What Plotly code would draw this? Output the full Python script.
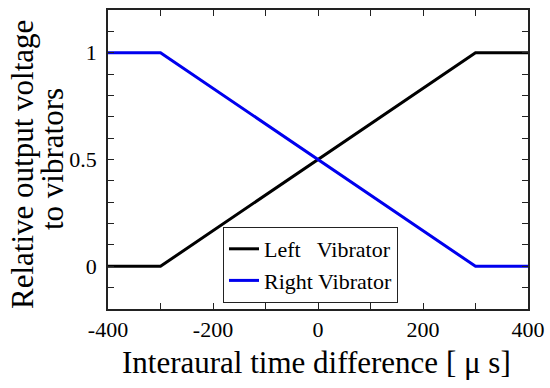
import plotly.graph_objects as go

itd = [-400, -300, 300, 400]
left_vib = [0, 0, 1, 1]
right_vib = [1, 1, 0, 0]
x_ticks = [-400, -200, 0, 200, 400]
x_tick_text = ["-400", "-200", "0", "200", "400"]
y_ticks = [0, 0.5, 1]
y_tick_text = ["0", "0.5", "1"]

font = "Liberation Serif, Times New Roman, serif"
L, R, T, B = 108, 22, 10, 79
W, H = 550, 388
pw, ph = W - L - R, H - T - B

fig = go.Figure()
fig.add_trace(go.Scatter(x=itd, y=left_vib, mode="lines", name="Left   Vibrator",
                         line=dict(color="black", width=3)))
fig.add_trace(go.Scatter(x=itd, y=right_vib, mode="lines", name="Right Vibrator",
                         line=dict(color="#0000ee", width=3)))

fig.update_layout(
    width=W, height=H,
    margin=dict(l=L, r=R, t=T, b=B),
    plot_bgcolor="white", paper_bgcolor="white",
    font=dict(family=font, color="black", size=20),
    legend=dict(x=(223 - L) / pw, y=(H - B - 227) / ph, xanchor="left", yanchor="top",
                bordercolor="#222", borderwidth=1, bgcolor="white",
                font=dict(size=22, family=font), tracegroupgap=0),
    showlegend=True,
)
axis_common = dict(ticks="inside", ticklen=6, tickcolor="#222", showline=True,
                   linecolor="#222", linewidth=1.5, mirror="allticks",
                   showgrid=False, zeroline=False, automargin=False,
                   tickfont=dict(size=22))
fig.update_xaxes(range=[-400, 400], tickvals=x_ticks, ticktext=x_tick_text,
                 minor=dict(dtick=100, tick0=-400, ticks="inside", ticklen=6, tickcolor="#222"),
                 **axis_common)
fig.update_yaxes(range=[-0.2, 1.2], tickvals=y_ticks, ticktext=y_tick_text,
                 ticklabelstandoff=5,
                 minor=dict(dtick=0.1, tick0=0, ticks="inside", ticklen=6, tickcolor="#222"),
                 **axis_common)

fig.add_annotation(text="Interaural time difference [ μ s]", xref="paper", yref="paper",
                   x=(316 - L) / pw, y=-(362 - (H - B)) / ph, xanchor="center", yanchor="middle",
                   showarrow=False, font=dict(size=31, family=font))
fig.add_annotation(text="Relative output voltage", xref="paper", yref="paper",
                   x=(22 - L) / pw, y=(H - B - 165) / ph, xanchor="center", yanchor="middle",
                   textangle=-90, showarrow=False, font=dict(size=31, family=font))
fig.add_annotation(text="to vibrators", xref="paper", yref="paper",
                   x=(52 - L) / pw, y=(H - B - 159) / ph, xanchor="center", yanchor="middle",
                   textangle=-90, showarrow=False, font=dict(size=31, family=font))

fig.write_html("out.html", config={"displayModeBar": False},
               post_script="document.body.style.margin='0';document.body.style.padding='0';")
